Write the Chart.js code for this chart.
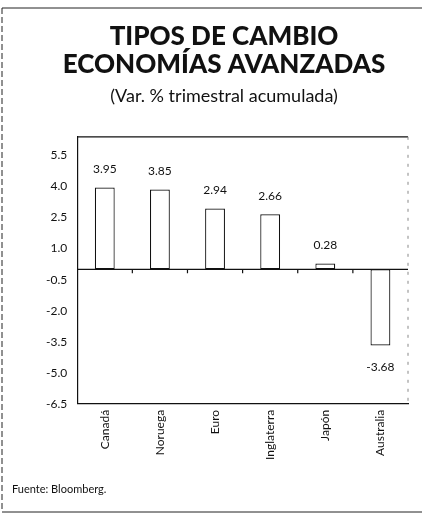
<!DOCTYPE html>
<html>
<head>
<meta charset="utf-8">
<script src="https://cdn.jsdelivr.net/npm/chart.js@4"></script>
<style>
  html, body { margin: 0; padding: 0; background: #fff; }
  #wrap { width: 424px; height: 515px; }
</style>
</head>
<body>
<div id="wrap"><canvas id="tiposChart"></canvas></div>
<script>
// data
const categories = ['Canadá', 'Noruega', 'Euro', 'Inglaterra', 'Japón', 'Australia'];
const variation = [3.95, 3.85, 2.94, 2.66, 0.28, -3.68];
const yTicks = [-6.5, -5.0, -3.5, -2.0, -0.5, 1.0, 2.5, 4.0, 5.5];

const FONT = 'Lato, "Open Sans", sans-serif';

// value labels, zero line, frames and source note
const decorPlugin = {
	id: 'decor',
	afterDatasetsDraw(chart) {
		const { ctx, chartArea, scales } = chart;
		const x = scales.x;
		const y = scales.y;
		const y0 = y.getPixelForValue(0);

		ctx.save();
		ctx.strokeStyle = '#111';
		ctx.lineWidth = 1.2;
		// zero line with small ticks between categories
		ctx.beginPath();
		ctx.moveTo(chartArea.left, y0);
		ctx.lineTo(chartArea.right, y0);
		for (let i = 1; i < categories.length; i++) {
			const bx = (x.getPixelForValue(i - 1) + x.getPixelForValue(i)) / 2;
			ctx.moveTo(bx, y0);
			ctx.lineTo(bx, y0 + 4);
		}
		ctx.stroke();

		// top border of plot
		ctx.beginPath();
		ctx.moveTo(chartArea.left, chartArea.top);
		ctx.lineTo(chartArea.right, chartArea.top);
		ctx.stroke();

		// right border, faint dashed
		ctx.strokeStyle = '#888';
		ctx.lineWidth = 1;
		ctx.setLineDash([3, 6]);
		ctx.beginPath();
		ctx.moveTo(chartArea.right, chartArea.top);
		ctx.lineTo(chartArea.right, chartArea.bottom);
		ctx.stroke();
		ctx.setLineDash([]);

		// value labels
		ctx.fillStyle = '#111';
		ctx.font = '12px ' + FONT;
		ctx.textAlign = 'center';
		variation.forEach((v, i) => {
			const px = x.getPixelForValue(i);
			const py = y.getPixelForValue(v);
			if (v >= 0) {
				ctx.textBaseline = 'bottom';
				ctx.fillText(v.toFixed(2), px, py - 12);
			} else {
				ctx.textBaseline = 'top';
				ctx.fillText(v.toFixed(2), px, py + 16);
			}
		});

		// outer frame of the figure
		ctx.strokeStyle = '#222';
		ctx.lineWidth = 1;
		ctx.beginPath();
		ctx.moveTo(2, 8);
		ctx.lineTo(422, 8);
		ctx.moveTo(2, 512);
		ctx.lineTo(422, 512);
		ctx.stroke();
		ctx.setLineDash([6, 3]);
		ctx.beginPath();
		ctx.moveTo(2, 8);
		ctx.lineTo(2, 512);
		ctx.stroke();
		ctx.setLineDash([]);

		// source
		ctx.fillStyle = '#111';
		ctx.font = '11px ' + FONT;
		ctx.textAlign = 'left';
		ctx.textBaseline = 'middle';
		ctx.fillText('Fuente: Bloomberg.', 12, 489);
		ctx.restore();
	}
};

new Chart(document.getElementById('tiposChart'), {
	type: 'bar',
	data: {
		labels: categories,
		datasets: [
			{
				data: variation,
				backgroundColor: '#ffffff',
				borderColor: '#111111',
				borderWidth: 1.2,
				borderSkipped: false,
				barPercentage: 0.36,
				categoryPercentage: 1.0
			}
		]
	},
	options: {
		responsive: true,
		maintainAspectRatio: false,
		animation: false,
		layout: { padding: { left: 40, right: 16, top: 0, bottom: 49 } },
		plugins: {
			legend: { display: false },
			tooltip: { enabled: false },
			title: {
				display: true,
				text: ['TIPOS DE CAMBIO', 'ECONOMÍAS AVANZADAS'],
				color: '#111',
				font: { family: FONT, size: 26, weight: '900', lineHeight: 1.1 },
				padding: { top: 22, bottom: 6 }
			},
			subtitle: {
				display: true,
				text: '(Var. % trimestral acumulada)',
				color: '#111',
				font: { family: FONT, size: 18 },
				padding: { top: 0, bottom: 30 }
			}
		},
		scales: {
			x: {
				grid: { display: false, drawTicks: false },
				border: { display: true, color: '#111', width: 1.2 },
				ticks: {
					color: '#111',
					font: { family: FONT, size: 12 },
					maxRotation: 90,
					minRotation: 90,
					padding: 6
				}
			},
			y: {
				min: -6.5,
				max: 6.4,
				afterBuildTicks(axis) {
					axis.ticks = yTicks.map(v => ({ value: v }));
				},
				grid: { display: false, drawTicks: true, tickLength: 4, tickColor: '#111' },
				border: { display: true, color: '#111', width: 1.2 },
				ticks: {
					color: '#111',
					font: { family: FONT, size: 12 },
					padding: 6,
					callback: v => v.toFixed(1)
				}
			}
		}
	},
	plugins: [decorPlugin]
});
</script>
</body>
</html>
